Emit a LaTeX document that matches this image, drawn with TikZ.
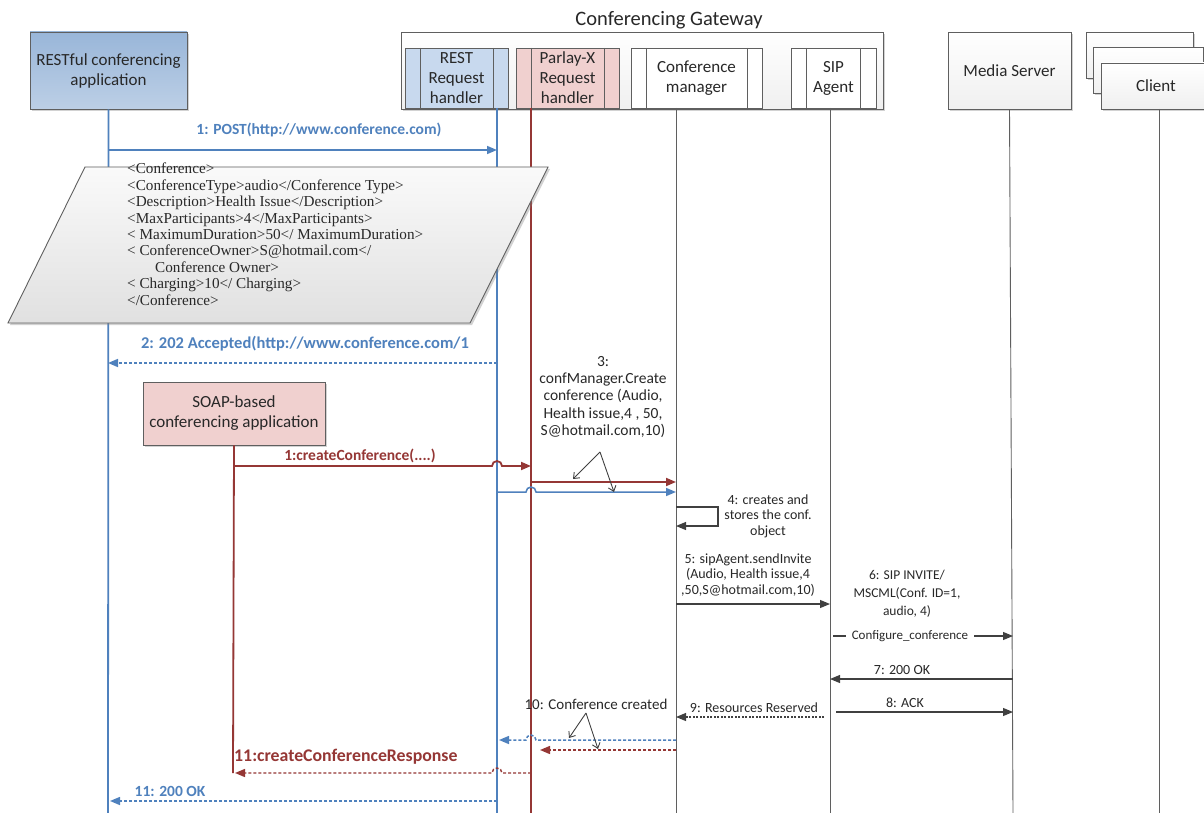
\documentclass[tikz,border=0pt]{standalone}
\usepackage{fontspec}
\setmainfont{Carlito}
\newfontfamily\xmlfont{Liberation Serif}
\usetikzlibrary{arrows.meta,shadows,positioning}
\definecolor{rblue}{RGB}{79,129,189}
\definecolor{rred}{RGB}{149,55,53}
\definecolor{pinkfill}{RGB}{240,208,207}
\definecolor{bluefill}{RGB}{200,217,238}
\definecolor{bordergray}{RGB}{95,95,95}
\definecolor{txtgray}{RGB}{40,40,40}
\tikzset{
  x=1pt,y=1pt,
  shad/.style={drop shadow={opacity=0.35,shadow xshift=2pt,shadow yshift=-2pt}},
  graybox/.style={draw=bordergray,line width=0.9pt,top color=white,bottom color=gray!12,shad},
  lbl/.style={font=\fontsize{14}{15.5}\selectfont,text=txtgray,align=center,inner sep=1pt},
  bluelbl/.style={font=\fontsize{15.5}{17}\selectfont\bfseries,text=rblue,inner sep=1pt},
  redlbl/.style={font=\fontsize{15.5}{17}\selectfont\bfseries,text=rred,inner sep=1pt},
  headtxt/.style={font=\fontsize{17}{20}\selectfont,text=txtgray,align=center},
  lifeg/.style={draw=bordergray,line width=0.9pt},
  lifeb/.style={draw=rblue,line width=1.8pt},
  lifer/.style={draw=rred,line width=1.8pt},
  tip/.style={-{Triangle[length=10pt,width=8pt]}},
  bmsg/.style={draw=rblue,line width=1.5pt,tip},
  rmsg/.style={draw=rred,line width=1.8pt,tip},
  kmsg/.style={draw=black!75,line width=1.1pt,tip},
  dsh/.style={dash pattern=on 3pt off 2pt},
  ptr/.style={draw=black!75,line width=0.9pt,-{Straight Barb[length=5pt,width=8pt]}},
}
\begin{document}
\begin{tikzpicture}
\useasboundingbox (0,0) rectangle (1204,-813);
\fill[white] (0,0) rectangle (1204,-813);

% ---- participants ----
\node[draw=bordergray,line width=0.9pt,top color=rblue!58,bottom color=rblue!38,shad,
      minimum width=157pt,minimum height=77pt,headtxt] (restapp) at (108.5,-70.5)
      {RESTful conferencing\\application};

\node[font=\fontsize{20.5}{24}\selectfont,text=txtgray] (gwtitle) at (669,-20) {Conferencing Gateway};
\node[graybox,minimum width=482pt,minimum height=77pt] (gw) at (642,-70.5) {};

% sub-process boxes of the gateway (box with two inner bars)
\newcommand{\procbox}[7]{% name, x1, x2, fill, text, bar1, bar2
  \node[draw=bordergray,line width=0.9pt,fill=#4,minimum width={#3-#2},minimum height=60pt,
        headtxt] (#1) at ({(#2+#3)/2},-78) {#5};
  \draw[bordergray,line width=0.9pt] (#6,-48) -- (#6,-108) (#7,-48) -- (#7,-108);
}
\procbox{resth}{405}{508}{bluefill}{REST\\Request\\handler}{420}{493}
\procbox{parlay}{516}{619}{pinkfill}{Parlay-X\\Request\\handler}{531}{604}
\procbox{confmgr}{631}{762}{white}{Conference\\manager}{646}{747}
\procbox{sipag}{791}{876}{white}{SIP\\Agent}{806}{860}

\node[graybox,minimum width=123pt,minimum height=77pt,headtxt] (media) at (1009.5,-70.5) {Media Server};

\node[graybox,minimum width=107pt,minimum height=46pt] (client1) at (1139.5,-55) {};
\node[graybox,minimum width=110pt,minimum height=46pt] (client2) at (1148,-70.5) {};
\node[graybox,minimum width=110pt,minimum height=46pt,headtxt] (client3) at (1156,-86) {Client};

% ---- lifelines ----
\draw[lifeb] (restapp.south) -- (108,-813);
\draw[lifeb] (497,-108) -- (497,-813);
\draw[lifer] (531,-108) -- (531,-813);
\draw[lifeg] (676,-108) -- (676,-813);
\draw[lifeg] (830,-108) -- (830,-813);
\draw[lifeg] (media.south) -- (1013,-813);
\draw[lifeg] (1159,-109) -- (1159,-813);

% ---- 1: POST ----
\node[bluelbl] (m1) at (319,-130) {1: POST(http://www.conference.com)};
\draw[bmsg] (108,-150) -- (497,-150);

% XML body of the request
\draw[draw=bordergray,line width=0.9pt,top color=gray!4,bottom color=gray!24,shad]
  (85,-167) -- (548,-167) -- (470,-323) -- (8,-323) -- cycle;
\node[font=\xmlfont\fontsize{15.2}{16.4}\selectfont,text=txtgray,align=left,anchor=north west,inner sep=0pt] (xml) at (127,-163)
  {<Conference>\\
   <ConferenceType>audio</Conference Type>\\
   <Description>Health Issue</Description>\\
   <MaxParticipants>4</MaxParticipants>\\
   < MaximumDuration>50</ MaximumDuration>\\
   < ConferenceOwner>S@hotmail.com</\\
   \hspace*{28pt}Conference Owner>\\
   < Charging>10</ Charging>\\
   </Conference>};

% ---- 2: 202 Accepted ----
\node[bluelbl,font=\fontsize{16.5}{18}\selectfont\bfseries] (m2) at (305,-344) {2: 202 Accepted(http://www.conference.com/1};
\draw[bmsg,dsh] (497,-363) -- (108,-363);

% ---- SOAP application ----
\node[draw=bordergray,line width=0.9pt,fill=pinkfill,shad,minimum width=182pt,minimum height=63pt,headtxt]
  (soap) at (234,-413.5) {SOAP-based\\conferencing application};
\draw[lifer] (soap.south) -- (233,-773);

% 1:createConference
\node[redlbl] (s1) at (360,-456) {1:createConference(....)};
\draw[rmsg] (233,-466) -- (492,-466) arc[start angle=180,end angle=0,radius=5] -- (531,-466);

% 3: confManager.Create
\node[lbl,font=\fontsize{15.5}{17.3}\selectfont] (m3) at (603,-397) {3:\\confManager.Create\\conference (Audio,\\Health issue,4 , 50,\\S@hotmail.com,10)};
\draw[rmsg] (531,-482) -- (676,-482);
\draw[bmsg] (497,-492) -- (526,-492) arc[start angle=180,end angle=0,radius=5] -- (676,-492);
\coordinate (p3) at (600,-452);
\draw[ptr] (p3) -- (573,-479);
\draw[ptr] (p3) -- (614,-492);

% 4: self call
\node[lbl] (m4) at (768,-516) {4: creates and\\stores the conf.\\object};
\draw[kmsg] (676,-507) -- (718,-507) -- (718,-526) -- (676,-526);

% 5: sipAgent.sendInvite
\node[lbl] (m5) at (748,-575) {5: sipAgent.sendInvite\\(Audio, Health issue,4\\,50,S@hotmail.com,10)};
\draw[kmsg] (676,-604) -- (830,-604);

% 6: SIP INVITE
\node[lbl,font=\fontsize{13.5}{18}\selectfont] (m6) at (907,-594) {6: SIP INVITE/\\MSCML(Conf. ID=1,\\audio, 4)};
\draw[kmsg] (833,-636) -- (1013,-636);
\node[lbl,font=\fontsize{13}{15}\selectfont,fill=white,inner xsep=6pt] (cfg) at (910,-636) {Configure\_conference};

% 7: 200 OK
\node[lbl] (m7) at (902,-670) {7: 200 OK};
\draw[kmsg] (1013,-679) -- (830,-679);

% 8: ACK
\node[lbl] (m8) at (905,-703) {8: ACK};
\draw[kmsg] (836,-712) -- (1013,-712);

% 9: Resources Reserved
\node[lbl] (m9) at (754,-708) {9: Resources Reserved};
\draw[kmsg,dash pattern=on 2pt off 1.5pt] (824,-717) -- (676,-717);

% 10: Conference created
\node[lbl,font=\fontsize{15}{17}\selectfont] (m10) at (596,-704) {10: Conference created};
\draw[bmsg,dsh] (676,-740) -- (536,-740) arc[start angle=0,end angle=180,radius=5] -- (499,-740);
\draw[rmsg,dsh,line width=1.4pt] (676,-750) -- (540,-750);
\coordinate (p10) at (586,-713);
\draw[ptr] (p10) -- (569,-738);
\draw[ptr] (p10) -- (598,-749);

% 11: createConferenceResponse
\node[redlbl,font=\fontsize{17.8}{20}\selectfont\bfseries,anchor=west] (r11) at (233,-757) {11:createConferenceResponse};
\draw[rmsg,dsh,line width=1.4pt] (531,-773) -- (502,-773) arc[start angle=0,end angle=180,radius=5] -- (235,-773);

% 11: 200 OK
\node[bluelbl] (b11) at (170,-791) {11: 200 OK};
\draw[bmsg,dsh] (497,-801) -- (110,-801);
\end{tikzpicture}
\end{document}
